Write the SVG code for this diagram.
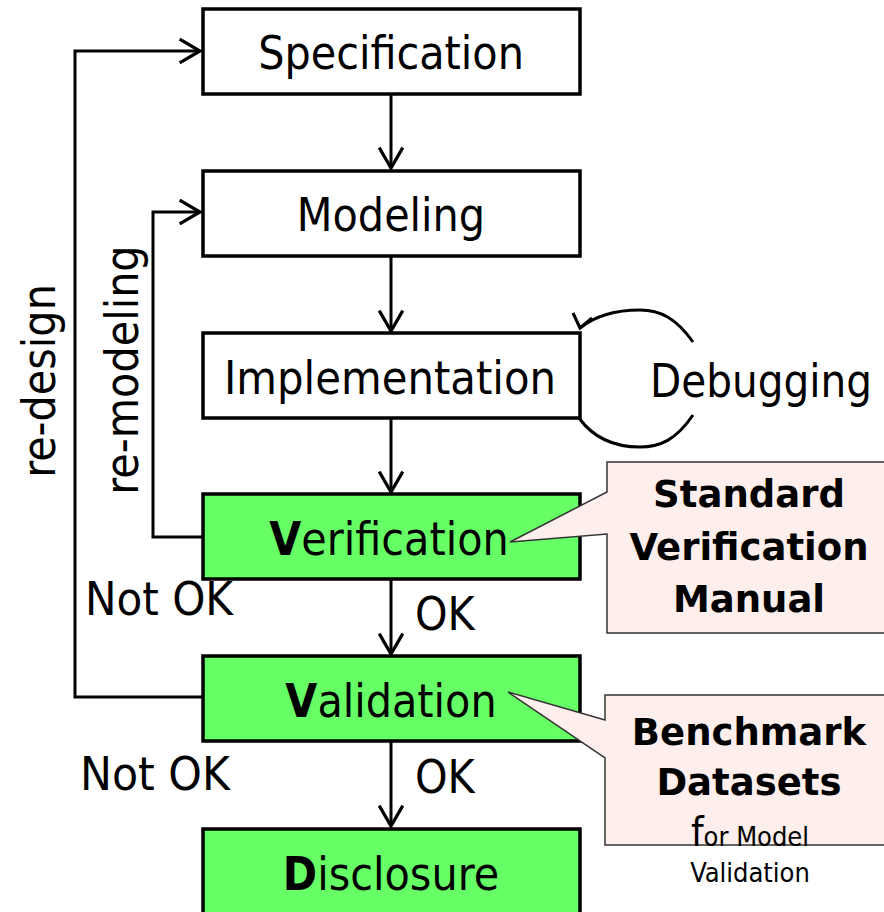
<svg xmlns="http://www.w3.org/2000/svg" width="884" height="912" viewBox="0 0 884 912">
<defs>
<style>
.box{stroke:#000;stroke-width:3.5}
.w{fill:#fff}
.g{fill:#66FF66}
.t{font-family:"DejaVu Sans Condensed","DejaVu Sans",sans-serif;font-size:46px;fill:#000}
.b{font-weight:bold}
.c{fill:none;stroke:#000;stroke-width:3}
.call{fill:#FEEEEC;stroke:#333;stroke-width:1.5}
.ct{font-family:"DejaVu Sans",sans-serif;font-size:37px;font-weight:bold;fill:#000;text-anchor:middle}
.st{font-family:"DejaVu Sans Condensed","DejaVu Sans",sans-serif;font-size:27px;fill:#000}
</style>
<marker id="ah" markerUnits="userSpaceOnUse" markerWidth="30" markerHeight="30" viewBox="-22 -14 26 28" refX="0" refY="0" orient="auto">
<path d="M-19,-11 L0,0 L-19,11" fill="none" stroke="#000" stroke-width="3"/>
</marker>
</defs>

<g id="connectors">
<line class="c" x1="391" y1="94" x2="391" y2="168" marker-end="url(#ah)"/>
<line class="c" x1="391" y1="256" x2="391" y2="331" marker-end="url(#ah)"/>
<line class="c" x1="391" y1="418" x2="391" y2="492" marker-end="url(#ah)"/>
<line class="c" x1="391" y1="579" x2="391" y2="654" marker-end="url(#ah)"/>
<line class="c" x1="391" y1="741" x2="391" y2="826" marker-end="url(#ah)"/>
<polyline class="c" points="202,697 75,697 75,51 200,51" marker-end="url(#ah)"/>
<polyline class="c" points="202,537 153,537 153,212 200,212" marker-end="url(#ah)"/>
<path class="c" d="M693,342 C676,318 660,310 640,310 C615,310 595,316 580,328"/>
<polyline class="c" points="573,313 580,328 592,318"/>
<path class="c" d="M693,415 C676,440 660,447 640,447 C612,447 592,436 579,418"/>
</g>

<g id="labels">
<text class="t" transform="translate(55,381) rotate(-90)" text-anchor="middle">re-design</text>
<text class="t" transform="translate(138,370) rotate(-90)" text-anchor="middle">re-modeling</text>
<text class="t" x="85" y="615" textLength="148" lengthAdjust="spacingAndGlyphs">Not OK</text>
<text class="t" x="80" y="790" textLength="150" lengthAdjust="spacingAndGlyphs">Not OK</text>
<text class="t" x="415" y="630">OK</text>
<text class="t" x="415" y="793">OK</text>
<text class="t" x="650" y="397" textLength="222" lengthAdjust="spacingAndGlyphs">Debugging</text>
</g>

<g id="specification">
<rect class="box w" x="203" y="9" width="377" height="85"/>
<text class="t" x="391" y="69" text-anchor="middle">Specification</text>
</g>
<g id="modeling">
<rect class="box w" x="203" y="171" width="377" height="85"/>
<text class="t" x="391" y="231" text-anchor="middle">Modeling</text>
</g>
<g id="implementation">
<rect class="box w" x="203" y="333" width="377" height="85"/>
<text class="t" x="390" y="394" text-anchor="middle" textLength="332" lengthAdjust="spacingAndGlyphs">Implementation</text>
</g>
<g id="verification">
<rect class="box g" x="203" y="494" width="377" height="85"/>
<text class="t" x="389" y="555" text-anchor="middle"><tspan class="b">V</tspan>erification</text>
</g>
<g id="validation">
<rect class="box g" x="203" y="656" width="377" height="85"/>
<text class="t" x="391" y="717" text-anchor="middle"><tspan class="b">V</tspan>alidation</text>
</g>
<g id="disclosure">
<rect class="box g" x="203" y="829" width="377" height="86"/>
<text class="t" x="391" y="890" text-anchor="middle"><tspan class="b">D</tspan>isclosure</text>
</g>

<g id="callout-verification">
<path class="call" d="M607,462 H886 V633 H607 V534 L510,542 L607,492 Z"/>
<text class="ct" x="749" y="507">Standard</text>
<text class="ct" x="749" y="560">Verification</text>
<text class="ct" x="749" y="612">Manual</text>
</g>
<g id="callout-benchmark">
<path class="call" d="M605,695 H886 V845 H605 V758 L508,692 L605,720 Z"/>
<text class="ct" x="749" y="745">Benchmark</text>
<text class="ct" x="749" y="795">Datasets</text>
<text class="st" x="750" y="846" text-anchor="middle"><tspan font-size="40">f</tspan>or Model</text>
<text class="st" x="750" y="882" text-anchor="middle">Validation</text>
</g>
</svg>
